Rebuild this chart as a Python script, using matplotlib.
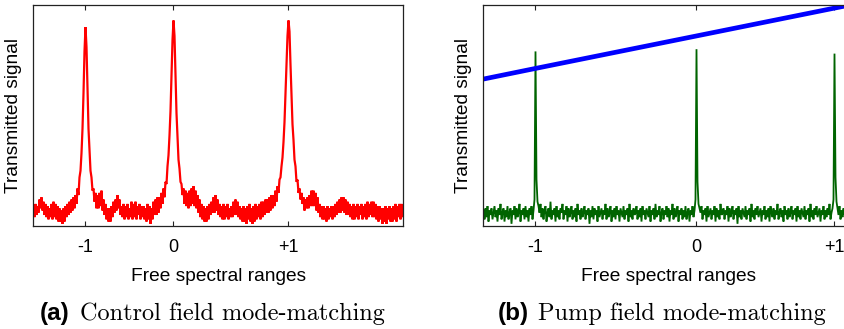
import matplotlib
matplotlib.use("Agg")
import matplotlib.pyplot as plt

# ---------------- data ----------------
# scan position in arbitrary units (one sample per screen column), signal in arbitrary units (0-100)
red_signal = [
    9, 4, 10, 5, 9, 6, 12, 8, 13, 7,
    11, 5, 10, 4, 9, 3, 8, 4, 10, 3,
    11, 4, 10, 3, 9, 2, 8, 2, 7, 1,
    8, 2, 9, 4, 10, 5, 11, 6, 12, 7,
    13, 8, 14, 10, 17, 14, 22, 25, 33, 44,
    60, 79, 90, 81, 62, 44, 34, 25, 22, 16,
    17, 11, 15, 8, 14, 8, 15, 9, 16, 7,
    12, 5, 10, 3, 8, 2, 8, 2, 9, 4,
    11, 6, 12, 7, 14, 8, 12, 5, 9, 4,
    10, 3, 9, 4, 10, 3, 8, 4, 11, 3,
    10, 4, 11, 3, 9, 5, 10, 3, 9, 4,
    9, 3, 8, 2, 10, 3, 9, 1, 8, 3,
    11, 5, 12, 5, 13, 6, 13, 8, 15, 10,
    17, 13, 20, 19, 27, 32, 41, 52, 68, 84,
    93, 86, 69, 51, 41, 30, 26, 20, 19, 14,
    17, 10, 16, 9, 15, 8, 16, 9, 17, 10,
    18, 9, 16, 8, 14, 6, 12, 4, 10, 3,
    9, 2, 8, 2, 9, 3, 10, 5, 11, 6,
    13, 6, 14, 7, 12, 5, 10, 4, 9, 3,
    10, 3, 9, 4, 10, 3, 8, 4, 9, 4,
    11, 5, 12, 5, 11, 4, 9, 3, 8, 2,
    9, 2, 8, 1, 9, 3, 10, 2, 8, 1,
    9, 2, 10, 3, 9, 4, 10, 3, 11, 4,
    11, 5, 12, 6, 12, 6, 13, 7, 14, 8,
    14, 9, 16, 11, 18, 15, 21, 22, 27, 31,
    38, 47, 60, 74, 86, 93, 88, 73, 60, 46,
    39, 30, 27, 20, 21, 15, 17, 12, 15, 10,
    13, 7, 12, 8, 13, 8, 14, 9, 16, 9,
    16, 9, 15, 7, 13, 6, 10, 4, 9, 3,
    9, 3, 8, 2, 9, 3, 8, 4, 9, 3,
    9, 4, 10, 5, 11, 6, 12, 6, 13, 7,
    13, 6, 12, 5, 11, 5, 10, 4, 9, 3,
    10, 3, 9, 4, 10, 3, 9, 5, 10, 3,
    9, 4, 10, 3, 11, 4, 10, 5, 11, 4,
    11, 4, 10, 3, 9, 2, 9, 3, 8, 1,
    8, 2, 9, 1, 8, 3, 9, 2, 8, 2,
    9, 3, 10, 2, 9, 4, 10, 3, 10, 4, 9,
]

green_signal = [
    7, 3, 8, 4, 9, 2, 7, 5, 8, 3,
    6, 9, 4, 7, 2, 8, 5, 10, 3, 6,
    8, 2, 7, 4, 9, 3, 6, 8, 1, 7,
    5, 9, 3, 8, 4, 6, 10, 2, 7, 5,
    8, 3, 9, 4, 7, 2, 8, 5, 9, 3,
    7, 12, 79, 21, 11, 9, 6, 10, 4, 8,
    3, 7, 9, 2, 6, 8, 4, 11, 3, 7,
    5, 8, 2, 9, 4, 7, 3, 8, 6, 10,
    3, 7, 5, 9, 2, 8, 4, 6, 9, 3,
    7, 4, 8, 2, 10, 5, 7, 3, 8, 4,
    6, 9, 3, 7, 5, 8, 1, 7, 4, 9,
    3, 8, 5, 7, 2, 9, 4, 6, 8, 3,
    7, 5, 10, 3, 8, 4, 6, 9, 2, 7,
    4, 8, 3, 9, 5, 7, 2, 8, 6, 4,
    9, 3, 7, 5, 8, 2, 10, 4, 7, 3,
    8, 5, 6, 9, 3, 7, 4, 8, 2, 9,
    5, 7, 3, 8, 6, 4, 9, 2, 7, 5,
    8, 3, 10, 4, 7, 5, 9, 2, 6, 8,
    3, 7, 5, 9, 4, 8, 2, 7, 5, 10,
    3, 8, 4, 6, 9, 2, 7, 5, 8, 3,
    7, 4, 9, 3, 6, 8, 2, 7, 5, 9,
    4, 7, 12, 80, 20, 10, 8, 6, 9, 3,
    7, 5, 8, 2, 9, 4, 6, 8, 3, 7,
    5, 9, 2, 8, 4, 7, 3, 10, 5, 6,
    8, 3, 7, 5, 9, 2, 8, 4, 6, 9,
    3, 7, 5, 8, 1, 9, 4, 7, 3, 8,
    6, 4, 9, 3, 7, 5, 8, 2, 10, 4,
    7, 3, 8, 5, 9, 4, 6, 8, 2, 7,
    5, 9, 3, 7, 4, 8, 2, 9, 6, 4,
    8, 3, 7, 5, 10, 3, 6, 8, 4, 7,
    2, 9, 5, 7, 3, 8, 4, 6, 9, 3,
    7, 5, 8, 2, 9, 4, 7, 3, 8, 6,
    4, 9, 3, 7, 5, 8, 2, 10, 4, 7,
    3, 8, 5, 9, 4, 6, 8, 2, 7, 5,
    9, 3, 7, 4, 8, 5, 10, 3, 6, 8,
    12, 78, 22, 11, 8, 5, 9, 3, 7, 4,
    8, 5, 9, 3, 7, 4, 8, 2, 9, 5, 7,
]

ramp_x = [0, 52, 213, 351, 370]
ramp_signal = [66.5, 71.3, 86.0, 98.6, 100.3]

ticks_a = [52, 140, 255]
ticks_b = [52, 213, 351]
tick_labels = ["-1", "0", "+1"]

xlabel = "Free spectral ranges"
ylabel = "Transmitted signal"
caption_tags = ["(a)", "(b)"]
caption_texts = ["Control field mode-matching", "Pump field mode-matching"]

# ---------------- figure ----------------
W, H = 845, 329
fig = plt.figure(figsize=(W / 100, H / 100), dpi=100)

SANS = ["Liberation Sans", "DejaVu Sans"]


def px_axes(x0, y0, x1, y1):
    return fig.add_axes([x0 / W, 1 - y1 / H, (x1 - x0) / W, (y1 - y0) / H])


ax1 = px_axes(33.5, 5, 403.5, 226)
ax2 = px_axes(483.5, 5, 853.5, 226)

ax1.plot(range(len(red_signal)), red_signal, color="#ff0000", lw=1.6,
         solid_joinstyle="miter")
ax2.plot(range(len(green_signal)), green_signal, color="#006400", lw=1.3,
         solid_joinstyle="miter")
ax2.plot(ramp_x, ramp_signal, color="#0000ff", lw=3.4, solid_capstyle="butt")

for ax, ticks in ((ax1, ticks_a), (ax2, ticks_b)):
    ax.set_xlim(0, 370)
    ax.set_ylim(0, 100)
    ax.set_xticks(ticks)
    ax.set_xticklabels(tick_labels, fontfamily=SANS, fontsize=13)
    ax.set_yticks([])
    ax.tick_params(axis="x", direction="in", top=True, bottom=True, length=3.5,
                   width=0.8, pad=9.5, colors="#222222", labelcolor="black")
    for s in ax.spines.values():
        s.set_linewidth(0.9)
        s.set_color("#222222")
    ax.set_xlabel(xlabel, fontfamily=SANS, fontsize=13.8, labelpad=8.5)
    ax.set_ylabel(ylabel, fontfamily=SANS, fontsize=13.8, labelpad=8)

# captions
cap_y = 1 - 320 / H
fig.text(40 / W, cap_y, caption_tags[0], fontfamily=SANS, fontweight="bold",
         fontsize=17.5, va="baseline", ha="left")
fig.text(80 / W, cap_y, caption_texts[0], fontfamily="cmr10", fontsize=17.5,
         va="baseline", ha="left")
fig.text(498 / W, cap_y, caption_tags[1], fontfamily=SANS, fontweight="bold",
         fontsize=17.5, va="baseline", ha="left")
fig.text(538 / W, cap_y, caption_texts[1], fontfamily="cmr10", fontsize=17.5,
         va="baseline", ha="left")

fig.savefig("out.png", dpi=100)
